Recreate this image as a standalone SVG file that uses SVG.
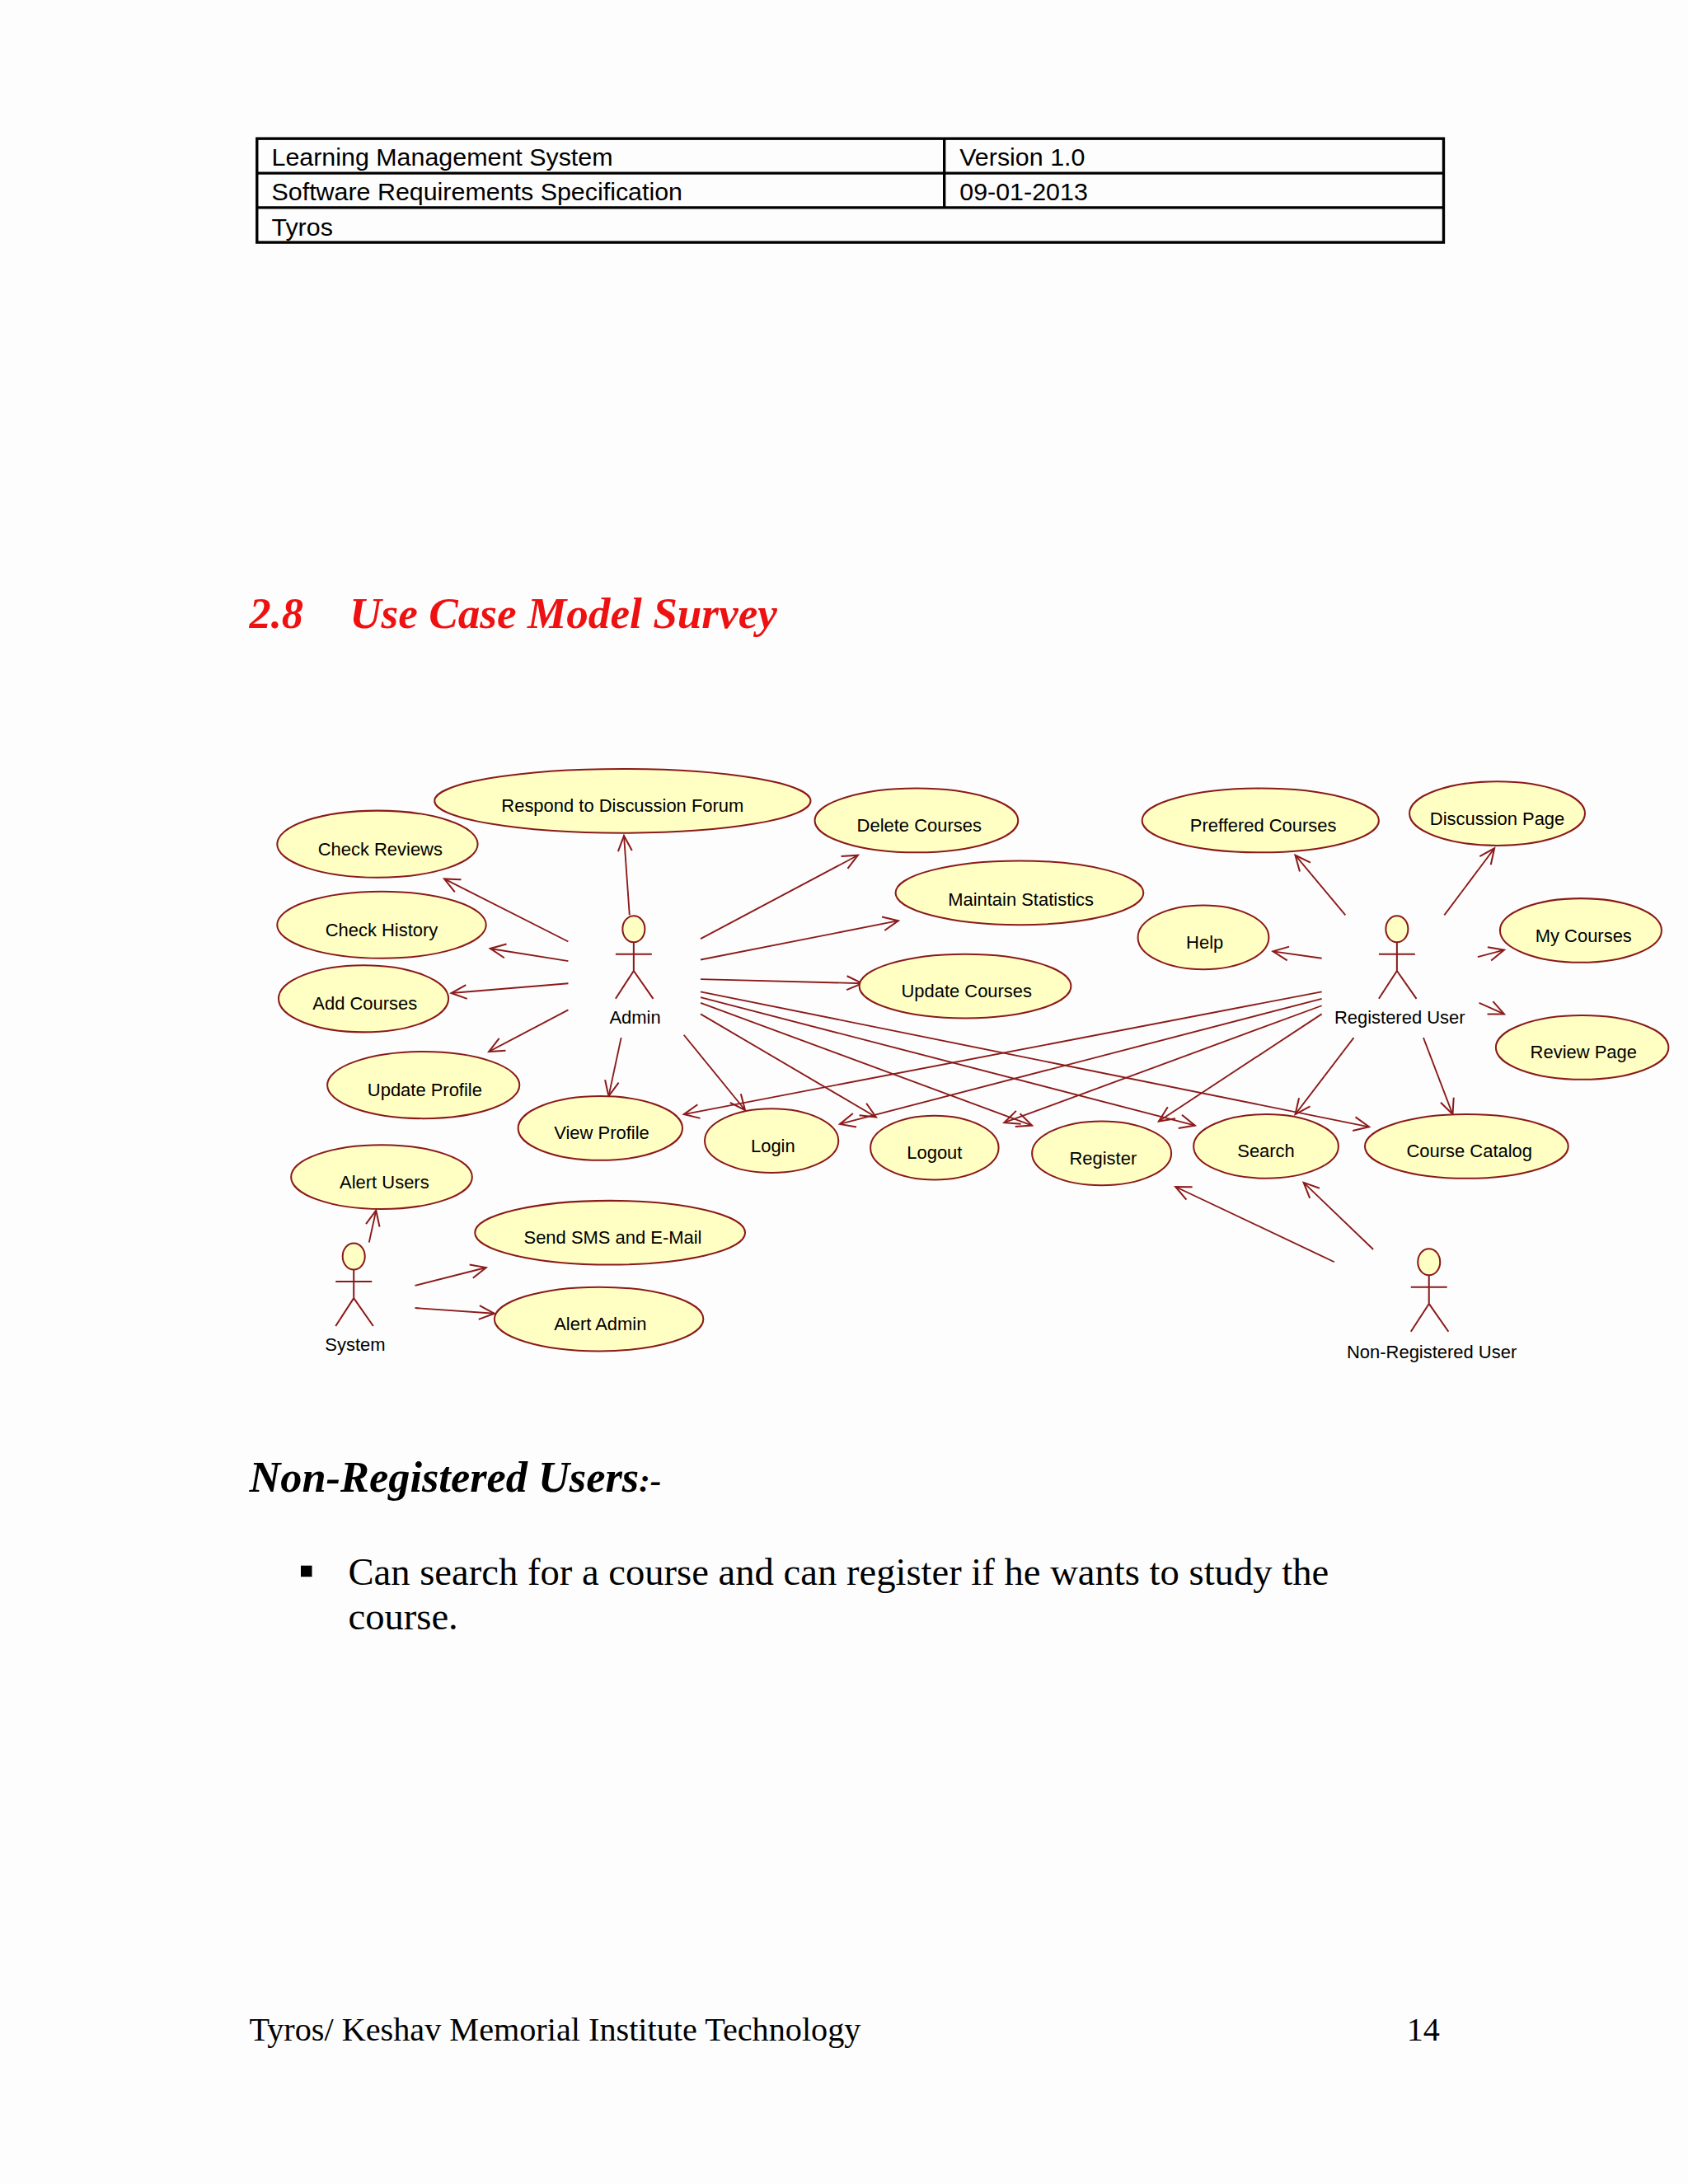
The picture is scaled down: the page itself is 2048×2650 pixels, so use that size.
<svg xmlns="http://www.w3.org/2000/svg" width="2048" height="2650" viewBox="0 0 2048 2650">
<style>
.uc{fill:#ffffc4;stroke:#8b1a1a;stroke-width:1.2}
.ut{font-family:"Liberation Sans",Arial,sans-serif;font-size:13px;text-anchor:middle;fill:#000}
.ac{fill:none;stroke:#8b1a1a;stroke-width:1.2}
.hd{fill:#ffffc4;stroke:#8b1a1a;stroke-width:1.2}
.cn line{stroke:#8b1a1a;stroke-width:1.1;marker-end:url(#arr)}
.tb{font-family:"Liberation Sans",Arial,sans-serif;font-size:18px;fill:#000}
.sf{font-family:"Liberation Serif","Times New Roman",serif;fill:#000}
</style>
<defs>
<marker id="arr" markerUnits="userSpaceOnUse" markerWidth="14" markerHeight="14" refX="12" refY="6" orient="auto" viewBox="0 0 14 12">
<path d="M1,1 L12,6 L1,11" fill="none" stroke="#8b1a1a" stroke-width="1.2"/>
</marker>
</defs>
<rect width="2048" height="2650" fill="#fdfdfd"/>
<g transform="scale(1.6898,1.6901)">
<g id="header">
<rect x="184.5" y="99.5" width="852" height="74.5" fill="none" stroke="#000" stroke-width="2"/>
<line x1="184.5" y1="124.3" x2="1036.5" y2="124.3" stroke="#000" stroke-width="2"/>
<line x1="184.5" y1="149" x2="1036.5" y2="149" stroke="#000" stroke-width="2"/>
<line x1="678" y1="99.5" x2="678" y2="149" stroke="#000" stroke-width="2"/>
<text class="tb" x="195" y="119">Learning Management System</text>
<text class="tb" x="689" y="119">Version 1.0</text>
<text class="tb" x="195" y="144">Software Requirements Specification</text>
<text class="tb" x="689" y="144">09-01-2013</text>
<text class="tb" x="195" y="169">Tyros</text>
</g>
<text class="sf" x="179" y="451" font-size="31" font-weight="bold" font-style="italic" style="fill:#ee1111">2.8</text>
<text class="sf" x="251" y="451" font-size="31.5" font-weight="bold" font-style="italic" style="fill:#ee1111">Use Case Model Survey</text>

<g class="cn" id="connectors">
<line x1="452" y1="657" x2="448" y2="600"/>
<line x1="408" y1="676" x2="319" y2="631"/>
<line x1="408" y1="690" x2="352" y2="681"/>
<line x1="408" y1="706" x2="324" y2="713"/>
<line x1="408" y1="725" x2="351" y2="755"/>
<line x1="503" y1="674" x2="616" y2="614"/>
<line x1="503" y1="689" x2="645" y2="661"/>
<line x1="503" y1="703" x2="619" y2="706"/>
<line x1="446" y1="745" x2="437" y2="787"/>
<line x1="491" y1="743" x2="535" y2="797"/>
<line x1="503" y1="728" x2="629" y2="802"/>
<line x1="503" y1="720" x2="741" y2="808"/>
<line x1="503" y1="716" x2="858" y2="808"/>
<line x1="503" y1="712" x2="983" y2="809"/>
<line x1="966" y1="657" x2="930" y2="614"/>
<line x1="1037" y1="657" x2="1073" y2="609"/>
<line x1="949" y1="688" x2="914" y2="683"/>
<line x1="1061" y1="687" x2="1080" y2="682"/>
<line x1="1062" y1="720" x2="1080" y2="728"/>
<line x1="949" y1="712" x2="491" y2="800"/>
<line x1="949" y1="717" x2="603" y2="807"/>
<line x1="949" y1="722" x2="721" y2="806"/>
<line x1="949" y1="728" x2="832" y2="805"/>
<line x1="972" y1="745" x2="930" y2="800"/>
<line x1="1022" y1="745" x2="1043" y2="800"/>
<line x1="958" y1="906" x2="844" y2="852"/>
<line x1="986" y1="897" x2="936" y2="849"/>
<line x1="265" y1="892" x2="270" y2="869"/>
<line x1="298" y1="923" x2="349" y2="910"/>
<line x1="298" y1="939" x2="355" y2="943"/>
</g>

<g id="uc-respond"><ellipse class="uc" cx="447" cy="575" rx="135" ry="23"/><text class="ut" x="447" y="583">Respond to Discussion Forum</text></g>
<g id="uc-checkreviews"><ellipse class="uc" cx="271" cy="606" rx="72" ry="24"/><text class="ut" x="273" y="614">Check Reviews</text></g>
<g id="uc-delete"><ellipse class="uc" cx="658" cy="589" rx="73" ry="23"/><text class="ut" x="660" y="597">Delete Courses</text></g>
<g id="uc-maintain"><ellipse class="uc" cx="732" cy="641" rx="89" ry="23"/><text class="ut" x="733" y="650">Maintain Statistics</text></g>
<g id="uc-checkhistory"><ellipse class="uc" cx="274" cy="664" rx="75" ry="24"/><text class="ut" x="274" y="672">Check History</text></g>
<g id="uc-addcourses"><ellipse class="uc" cx="261" cy="717" rx="61" ry="24"/><text class="ut" x="262" y="725">Add Courses</text></g>
<g id="uc-updatecourses"><ellipse class="uc" cx="693" cy="708" rx="76" ry="23"/><text class="ut" x="694" y="716">Update Courses</text></g>
<g id="uc-updateprofile"><ellipse class="uc" cx="304" cy="779" rx="69" ry="24"/><text class="ut" x="305" y="787">Update Profile</text></g>
<g id="uc-viewprofile"><ellipse class="uc" cx="431" cy="810" rx="59" ry="23"/><text class="ut" x="432" y="818">View Profile</text></g>
<g id="uc-login"><ellipse class="uc" cx="554" cy="819" rx="48" ry="23"/><text class="ut" x="555" y="827">Login</text></g>
<g id="uc-logout"><ellipse class="uc" cx="671" cy="824" rx="46" ry="23"/><text class="ut" x="671" y="832">Logout</text></g>
<g id="uc-register"><ellipse class="uc" cx="791" cy="828" rx="50" ry="23"/><text class="ut" x="792" y="836">Register</text></g>
<g id="uc-search"><ellipse class="uc" cx="909" cy="823" rx="52" ry="23"/><text class="ut" x="909" y="831">Search</text></g>
<g id="uc-catalog"><ellipse class="uc" cx="1053" cy="823" rx="73" ry="23"/><text class="ut" x="1055" y="831">Course Catalog</text></g>
<g id="uc-preffered"><ellipse class="uc" cx="905" cy="589" rx="85" ry="23"/><text class="ut" x="907" y="597">Preffered Courses</text></g>
<g id="uc-discussion"><ellipse class="uc" cx="1075" cy="584" rx="63" ry="23"/><text class="ut" x="1075" y="592">Discussion Page</text></g>
<g id="uc-help"><ellipse class="uc" cx="864" cy="673" rx="47" ry="23"/><text class="ut" x="865" y="681">Help</text></g>
<g id="uc-mycourses"><ellipse class="uc" cx="1135" cy="668" rx="58" ry="23"/><text class="ut" x="1137" y="676">My Courses</text></g>
<g id="uc-review"><ellipse class="uc" cx="1136" cy="752" rx="62" ry="23"/><text class="ut" x="1137" y="760">Review Page</text></g>
<g id="uc-alertusers"><ellipse class="uc" cx="274" cy="845" rx="65" ry="23"/><text class="ut" x="276" y="853">Alert Users</text></g>
<g id="uc-sendsms"><ellipse class="uc" cx="438" cy="885" rx="97" ry="23"/><text class="ut" x="440" y="893">Send SMS and E-Mail</text></g>
<g id="uc-alertadmin"><ellipse class="uc" cx="430" cy="947" rx="75" ry="23"/><text class="ut" x="431" y="955">Alert Admin</text></g>

<g id="actor-admin"><ellipse class="hd" cx="455" cy="667" rx="8" ry="9.5"/><path class="ac" d="M455,676.5 V697 M442,685 H468 M455,697 L442,717 M455,697 L469,717"/><text class="ut" x="456" y="735">Admin</text></g>
<g id="actor-registered"><ellipse class="hd" cx="1003" cy="667" rx="8" ry="9.5"/><path class="ac" d="M1003,676.5 V697 M990,685 H1016 M1003,697 L990,717 M1003,697 L1017,717"/><text class="ut" x="1005" y="735">Registered User</text></g>
<g id="actor-nonregistered"><ellipse class="hd" cx="1026" cy="906" rx="8" ry="9.5"/><path class="ac" d="M1026,915.5 V936 M1013,924 H1039 M1026,936 L1013,956 M1026,936 L1040,956"/><text class="ut" x="1028" y="975">Non-Registered User</text></g>
<g id="actor-system"><ellipse class="hd" cx="254" cy="902" rx="8" ry="9.5"/><path class="ac" d="M254,911.5 V932 M241,920 H267 M254,932 L241,952 M254,932 L268,952"/><text class="ut" x="255" y="970">System</text></g>

<text class="sf" x="179" y="1071" font-size="31" font-weight="bold" font-style="italic">Non-Registered Users<tspan font-size="24">:-</tspan></text>
<rect x="216" y="1124" width="8" height="8" fill="#000"/>
<text class="sf" x="250" y="1138" font-size="27.6">Can search for a course and can register if he wants to study the</text>
<text class="sf" x="250" y="1170" font-size="27.6">course.</text>
<text class="sf" x="179" y="1465" font-size="23.8">Tyros/ Keshav Memorial Institute Technology</text>
<text class="sf" x="1010" y="1465" font-size="23.8">14</text>
</g>
</svg>
